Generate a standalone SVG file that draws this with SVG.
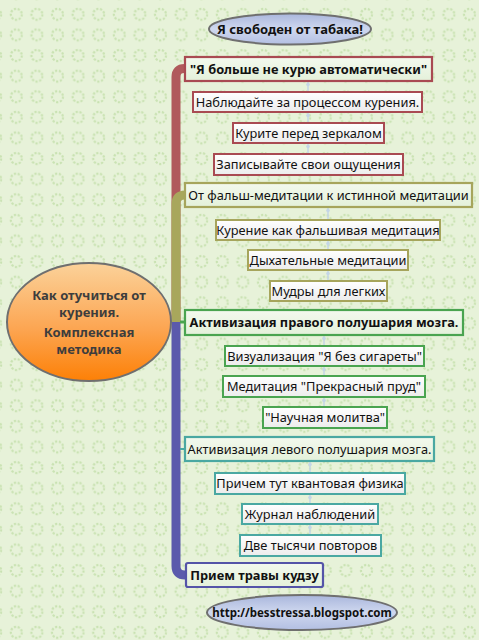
<svg xmlns="http://www.w3.org/2000/svg" width="479" height="640" viewBox="0 0 479 640">
<defs>
<pattern id="bgp" x="6" y="4" width="20.6" height="20.6" patternUnits="userSpaceOnUse">
<circle cx="10.3" cy="10.3" r="5.5" fill="none" stroke="#c9e2b2" stroke-width="2.2" stroke-dasharray="2.2 1.6"/>
</pattern>
<linearGradient id="gOr" x1="0" y1="0" x2="0" y2="1">
<stop offset="0" stop-color="#fbd29a"/>
<stop offset="0.55" stop-color="#fca653"/>
<stop offset="1" stop-color="#fd8006"/>
</linearGradient>
<linearGradient id="gBl" x1="0" y1="0" x2="0" y2="1">
<stop offset="0" stop-color="#a9b6dc"/>
<stop offset="0.5" stop-color="#cfd8ef"/>
<stop offset="1" stop-color="#b3bfe2"/>
</linearGradient>
<linearGradient id="gMain" x1="0" y1="0" x2="0" y2="1">
<stop offset="0" stop-color="#f3f9ee"/>
<stop offset="1" stop-color="#e4f1da"/>
</linearGradient>
<linearGradient id="gSub" x1="0" y1="0" x2="0" y2="1">
<stop offset="0" stop-color="#ffffff"/>
<stop offset="1" stop-color="#ececec"/>
</linearGradient>
</defs>
<style>
text{font-family:"Noto Sans","Open Sans","DejaVu Sans",sans-serif;font-size:12.8px;fill:#111;text-anchor:middle;}
.b{font-weight:bold;}
.main rect{fill:url(#gMain);stroke-width:2.2;}
.sub rect{fill:url(#gSub);stroke-width:2;}
.red rect{stroke:#a94a52;}
.olv rect{stroke:#a6a55c;}
.grn rect{stroke:#4aa450;}
.tea rect{stroke:#4aa8a2;}
.blu rect{stroke:#5454a8;}
.bar{fill:none;stroke-width:9;stroke-linejoin:round;}
.cn{stroke:#c4d6e6;stroke-width:1.5;}
.dot{fill:#c4d6e6;}
.ell{stroke:#6f6f6f;stroke-width:2;}
.ct{font-weight:bold;font-size:13px;fill:#3d3d3d;}
</style>
<rect width="479" height="640" fill="#e7f2d9"/>
<rect width="479" height="640" fill="url(#bgp)"/>

<g id="connectors">
<path class="bar" stroke="#b05a5c" d="M176,322 V77 Q176,68.5 184.5,68.5 H188"/>
<path class="bar" stroke="#a8a75c" d="M176,322 V204 Q176,195 185,195 H188"/>
<path class="bar" stroke="#5b5aac" d="M176,322 V566 Q176,575 185,575 H188"/>
<path d="M180,322 H187" stroke="#4aa450" stroke-width="3"/>
<path d="M180,449 H187" stroke="#4aa8a2" stroke-width="2"/>
<line class="cn" x1="308" y1="82" x2="308" y2="92"/><circle class="dot" cx="308" cy="84.5" r="1.8"/>
<line class="cn" x1="308" y1="113" x2="308" y2="123"/><circle class="dot" cx="308" cy="115.5" r="1.8"/>
<line class="cn" x1="308" y1="144" x2="308" y2="154"/><circle class="dot" cx="308" cy="146.5" r="1.8"/>
<line class="cn" x1="328" y1="208" x2="328" y2="220"/><circle class="dot" cx="328" cy="210.5" r="1.8"/>
<line class="cn" x1="328" y1="241" x2="328" y2="250"/><circle class="dot" cx="328" cy="243.5" r="1.8"/>
<line class="cn" x1="328" y1="271" x2="328" y2="281"/><circle class="dot" cx="328" cy="273.5" r="1.8"/>
<line class="cn" x1="324" y1="336" x2="324" y2="346"/><circle class="dot" cx="324" cy="338.5" r="1.8"/>
<line class="cn" x1="324" y1="367" x2="324" y2="376"/><circle class="dot" cx="324" cy="369.5" r="1.8"/>
<line class="cn" x1="324" y1="398" x2="324" y2="407"/><circle class="dot" cx="324" cy="400.5" r="1.8"/>
<line class="cn" x1="310" y1="462" x2="310" y2="473"/><circle class="dot" cx="310" cy="464.5" r="1.8"/>
<line class="cn" x1="310" y1="495" x2="310" y2="504"/><circle class="dot" cx="310" cy="497.5" r="1.8"/>
<line class="cn" x1="310" y1="525" x2="310" y2="535"/><circle class="dot" cx="310" cy="527.5" r="1.8"/>
</g>

<g id="central">
<ellipse class="ell" cx="89" cy="322" rx="82" ry="59" fill="url(#gOr)"/>
<text class="ct" x="89" y="300">Как отучиться от</text>
<text class="ct" x="89" y="317">курения.</text>
<text class="ct" x="89" y="337">Комплексная</text>
<text class="ct" x="89" y="354">методика</text>
</g>

<g id="top-ellipse">
<ellipse class="ell" cx="290" cy="29" rx="81" ry="15.5" fill="url(#gBl)"/>
<text class="b" x="290" y="33.5" style="font-size:13px">Я свободен от табака!</text>
</g>

<g id="n1" class="main red"><rect x="185" y="57" width="247" height="24"/><text class="b" x="308.5" y="73.5">"Я больше не курю автоматически"</text></g>
<g id="n1a" class="sub red"><rect x="193" y="92" width="229" height="20"/><text x="307.5" y="106.5">Наблюдайте за процессом курения.</text></g>
<g id="n1b" class="sub red"><rect x="233" y="123" width="151" height="20"/><text x="308.5" y="137.5">Курите перед зеркалом</text></g>
<g id="n1c" class="sub red"><rect x="214" y="154" width="189" height="21"/><text x="308.5" y="169">Записывайте свои ощущения</text></g>

<g id="n2" class="main olv"><rect x="185" y="183" width="287" height="24"/><text x="328.5" y="199.5">От фальш-медитации к истинной медитации</text></g>
<g id="n2a" class="sub olv"><rect x="216" y="220" width="224" height="20"/><text x="328" y="234.5">Курение как фальшивая медитация</text></g>
<g id="n2b" class="sub olv"><rect x="248" y="250" width="160" height="20"/><text x="328" y="264.5">Дыхательные медитации</text></g>
<g id="n2c" class="sub olv"><rect x="270" y="281" width="117" height="20"/><text x="328.5" y="295.5">Мудры для легких</text></g>

<g id="n3" class="main grn"><rect x="185" y="310" width="278" height="25"/><text class="b" x="324" y="327">Активизация правого полушария мозга.</text></g>
<g id="n3a" class="sub grn"><rect x="225" y="346" width="199" height="20"/><text x="324.5" y="360.5">Визуализация "Я без сигареты"</text></g>
<g id="n3b" class="sub grn"><rect x="223" y="376" width="202" height="21"/><text x="324" y="391">Медитация "Прекрасный пруд"</text></g>
<g id="n3c" class="sub grn"><rect x="263" y="407" width="124" height="21"/><text x="325" y="422">"Научная молитва"</text></g>

<g id="n4" class="main tea"><rect x="185" y="437" width="249" height="24"/><text x="309.5" y="453.5">Активизация левого полушария мозга.</text></g>
<g id="n4a" class="sub tea"><rect x="215" y="473" width="190" height="21"/><text x="310" y="488">Причем тут квантовая физика</text></g>
<g id="n4b" class="sub tea"><rect x="242" y="504" width="136" height="20"/><text x="310" y="518.5">Журнал наблюдений</text></g>
<g id="n4c" class="sub tea"><rect x="240" y="535" width="141" height="21"/><text x="310.5" y="550">Две тысячи повторов</text></g>

<g id="n5" class="main blu"><rect x="186" y="563" width="137" height="24" rx="2"/><text class="b" x="254.5" y="579.5">Прием травы кудзу</text></g>

<g id="bottom-ellipse">
<ellipse class="ell" cx="302" cy="612.5" rx="95" ry="17.5" fill="url(#gBl)"/>
<text class="b" x="302" y="616.5" style="font-size:11.5px">http://besstressa.blogspot.com</text>
</g>
</svg>
